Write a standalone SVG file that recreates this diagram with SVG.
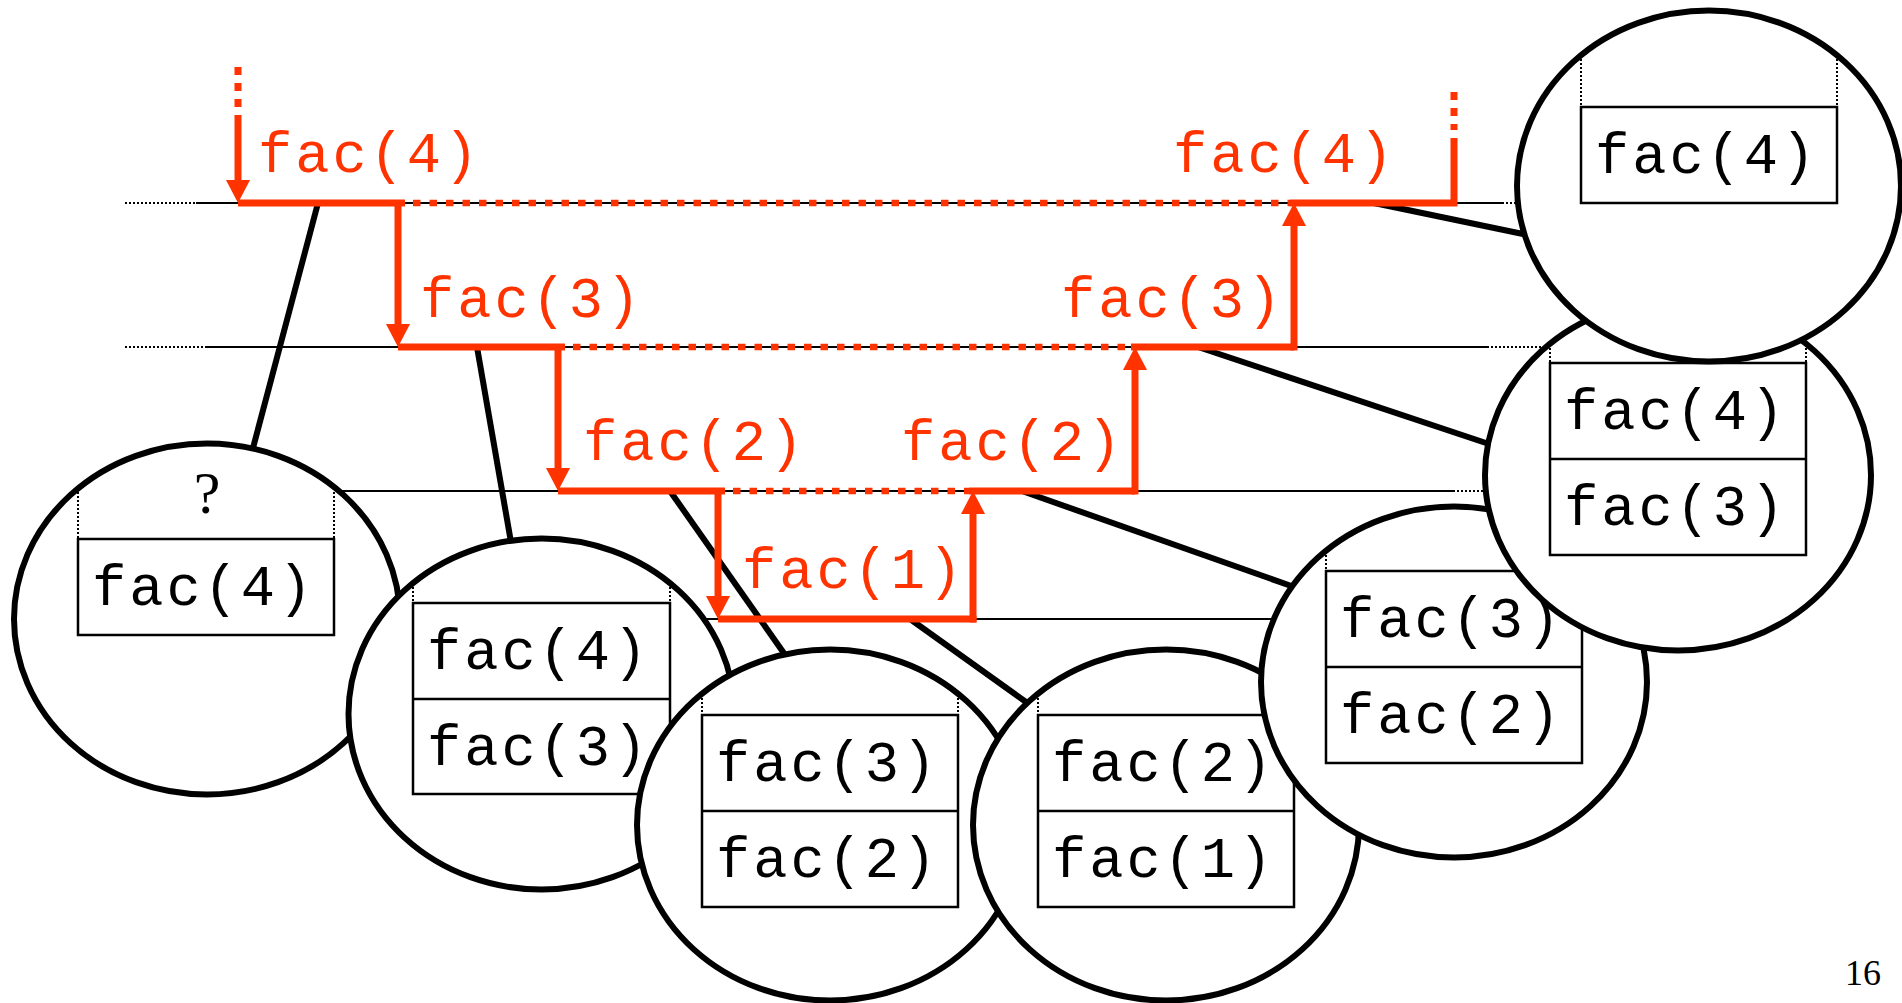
<svg xmlns="http://www.w3.org/2000/svg" width="1902" height="1003" viewBox="0 0 1902 1003">
<style>
.thin{stroke:#000;stroke-width:2;fill:none}
.dot{stroke:#000;stroke-width:2;stroke-dasharray:2 2;fill:none}
.conn{stroke:#000;stroke-width:6;fill:none}
.red{stroke:#ff3300;stroke-width:7;fill:none}
.reddash{stroke:#ff3300;stroke-width:6.5;stroke-dasharray:7.5 9;fill:none}
.vdash{stroke:#ff3300;stroke-width:7;stroke-dasharray:8 8;fill:none}
.arrow{stroke:#ff3300;stroke-width:7;fill:none;marker-end:url(#ah)}
.rl{font-family:"Liberation Mono","Courier New",monospace;font-size:57px;letter-spacing:3px;fill:#ff3300}
.bl{font-family:"Liberation Mono","Courier New",monospace;font-size:57px;letter-spacing:3px;fill:#000}
.ser{font-family:"Liberation Serif","Times New Roman",serif;fill:#000}
.ell{fill:#fff;stroke:#000;stroke-width:6}
.box{fill:none;stroke:#000;stroke-width:2.5}
.vd{stroke:#000;stroke-width:2;stroke-dasharray:2 2;fill:none}
</style>
<defs>
<marker id="ah" markerUnits="userSpaceOnUse" viewBox="0 0 23 24" refX="0" refY="12" markerWidth="23" markerHeight="24" orient="auto"><path d="M0,0 L23,12 L0,24 z" fill="#ff3300"/></marker>
</defs>
<rect width="1902" height="1003" fill="#fff"/>
<g id="levels">
<path class="dot" d="M125,203 H196 M125,347 H206 M1502,203 H1530 M1487,347 H1550 M1453,491 H1495"/>
<path class="thin" d="M196,203 H1502 M206,347 H1487 M300,491 H1453 M690,619 H1290"/>
</g>
<g id="connectors">
<path class="conn" d="M318,203 L253,448"/>
<path class="conn" d="M477,347 L512,548"/>
<path class="conn" d="M670,491 L788,659"/>
<path class="conn" d="M910,619 L1026,702"/>
<path class="conn" d="M1022,491 L1297,588"/>
<path class="conn" d="M1198,347 L1492,445"/>
<path class="conn" d="M1374,203 L1528,235"/>
</g>
<g id="calls">
<path class="vdash" d="M238,67 V107"/>
<path class="arrow" d="M238,115 V180"/>
<path class="red" d="M238,203 H405"/>
<path class="reddash" d="M413,203 H1290"/>
<path class="arrow" d="M398,203 V324"/>
<path class="red" d="M398,347 H565"/>
<path class="reddash" d="M573,347 H1131"/>
<path class="arrow" d="M558,347 V468"/>
<path class="red" d="M558,491 H725"/>
<path class="reddash" d="M733,491 H969"/>
<path class="arrow" d="M718,491 V596"/>
<path class="red" d="M718,619 H976.5"/>
<path class="arrow" d="M973,622.5 V514"/>
<path class="red" d="M969,491 H1135"/>
<path class="arrow" d="M1135,494.5 V370"/>
<path class="red" d="M1131,347 H1294"/>
<path class="arrow" d="M1294,350.5 V226"/>
<path class="red" d="M1290,203 H1454 V138"/>
<path class="vdash" d="M1454,92 V130"/>
<text class="rl" x="258" y="172">fac(4)</text>
<text class="rl" x="420" y="317">fac(3)</text>
<text class="rl" x="583" y="460">fac(2)</text>
<text class="rl" x="742" y="588">fac(1)</text>
<text class="rl" x="901" y="460">fac(2)</text>
<text class="rl" x="1061" y="317">fac(3)</text>
<text class="rl" x="1173" y="172">fac(4)</text>
</g>
<g id="stack1">
<ellipse class="ell" cx="207" cy="619" rx="193" ry="175.5"/>
<path class="vd" d="M78,488 V539 M334,488 V539"/>
<rect class="box" x="78" y="539" width="256" height="96"/>
<text class="ser" x="207" y="513" font-size="60" text-anchor="middle">?</text>
<text class="bl" x="92" y="605">fac(4)</text>
</g>
<g id="stack2">
<ellipse class="ell" cx="541.5" cy="714" rx="193" ry="175.5"/>
<path class="vd" d="M413,583 V603 M670,583 V603"/>
<rect class="box" x="413" y="603" width="257" height="191"/>
<path class="box" d="M413,699 H670"/>
<text class="bl" x="427" y="669">fac(4)</text>
<text class="bl" x="427" y="765">fac(3)</text>
</g>
<g id="stack3">
<ellipse class="ell" cx="830" cy="825" rx="193" ry="175.5"/>
<path class="vd" d="M702,694 V715 M958,694 V715"/>
<rect class="box" x="702" y="715" width="256" height="192"/>
<path class="box" d="M702,811 H958"/>
<text class="bl" x="716" y="781">fac(3)</text>
<text class="bl" x="716" y="877">fac(2)</text>
</g>
<g id="stack4">
<ellipse class="ell" cx="1166" cy="825" rx="193" ry="175.5"/>
<path class="vd" d="M1038,694 V715 M1294,694 V715"/>
<rect class="box" x="1038" y="715" width="256" height="192"/>
<path class="box" d="M1038,811 H1294"/>
<text class="bl" x="1052" y="781">fac(2)</text>
<text class="bl" x="1052" y="877">fac(1)</text>
</g>
<g id="stack5">
<ellipse class="ell" cx="1454" cy="682" rx="193" ry="175.5"/>
<path class="vd" d="M1326,551 V571 M1582,551 V571"/>
<rect class="box" x="1326" y="571" width="256" height="192"/>
<path class="box" d="M1326,667 H1582"/>
<text class="bl" x="1340" y="637">fac(3)</text>
<text class="bl" x="1340" y="733">fac(2)</text>
</g>
<g id="stack6">
<ellipse class="ell" cx="1678" cy="475" rx="193" ry="175.5"/>
<path class="vd" d="M1550,344 V363 M1806,344 V363"/>
<rect class="box" x="1550" y="363" width="256" height="192"/>
<path class="box" d="M1550,459 H1806"/>
<text class="bl" x="1564" y="429">fac(4)</text>
<text class="bl" x="1564" y="525">fac(3)</text>
</g>
<g id="stack7">
<ellipse class="ell" cx="1709" cy="186" rx="192" ry="175.5"/>
<path class="vd" d="M1581,55 V107 M1837,55 V107"/>
<rect class="box" x="1581" y="107" width="256" height="96"/>
<text class="bl" x="1595" y="173">fac(4)</text>
</g>
<text id="page" class="ser" x="1881" y="985" font-size="36" text-anchor="end">16</text>
</svg>
